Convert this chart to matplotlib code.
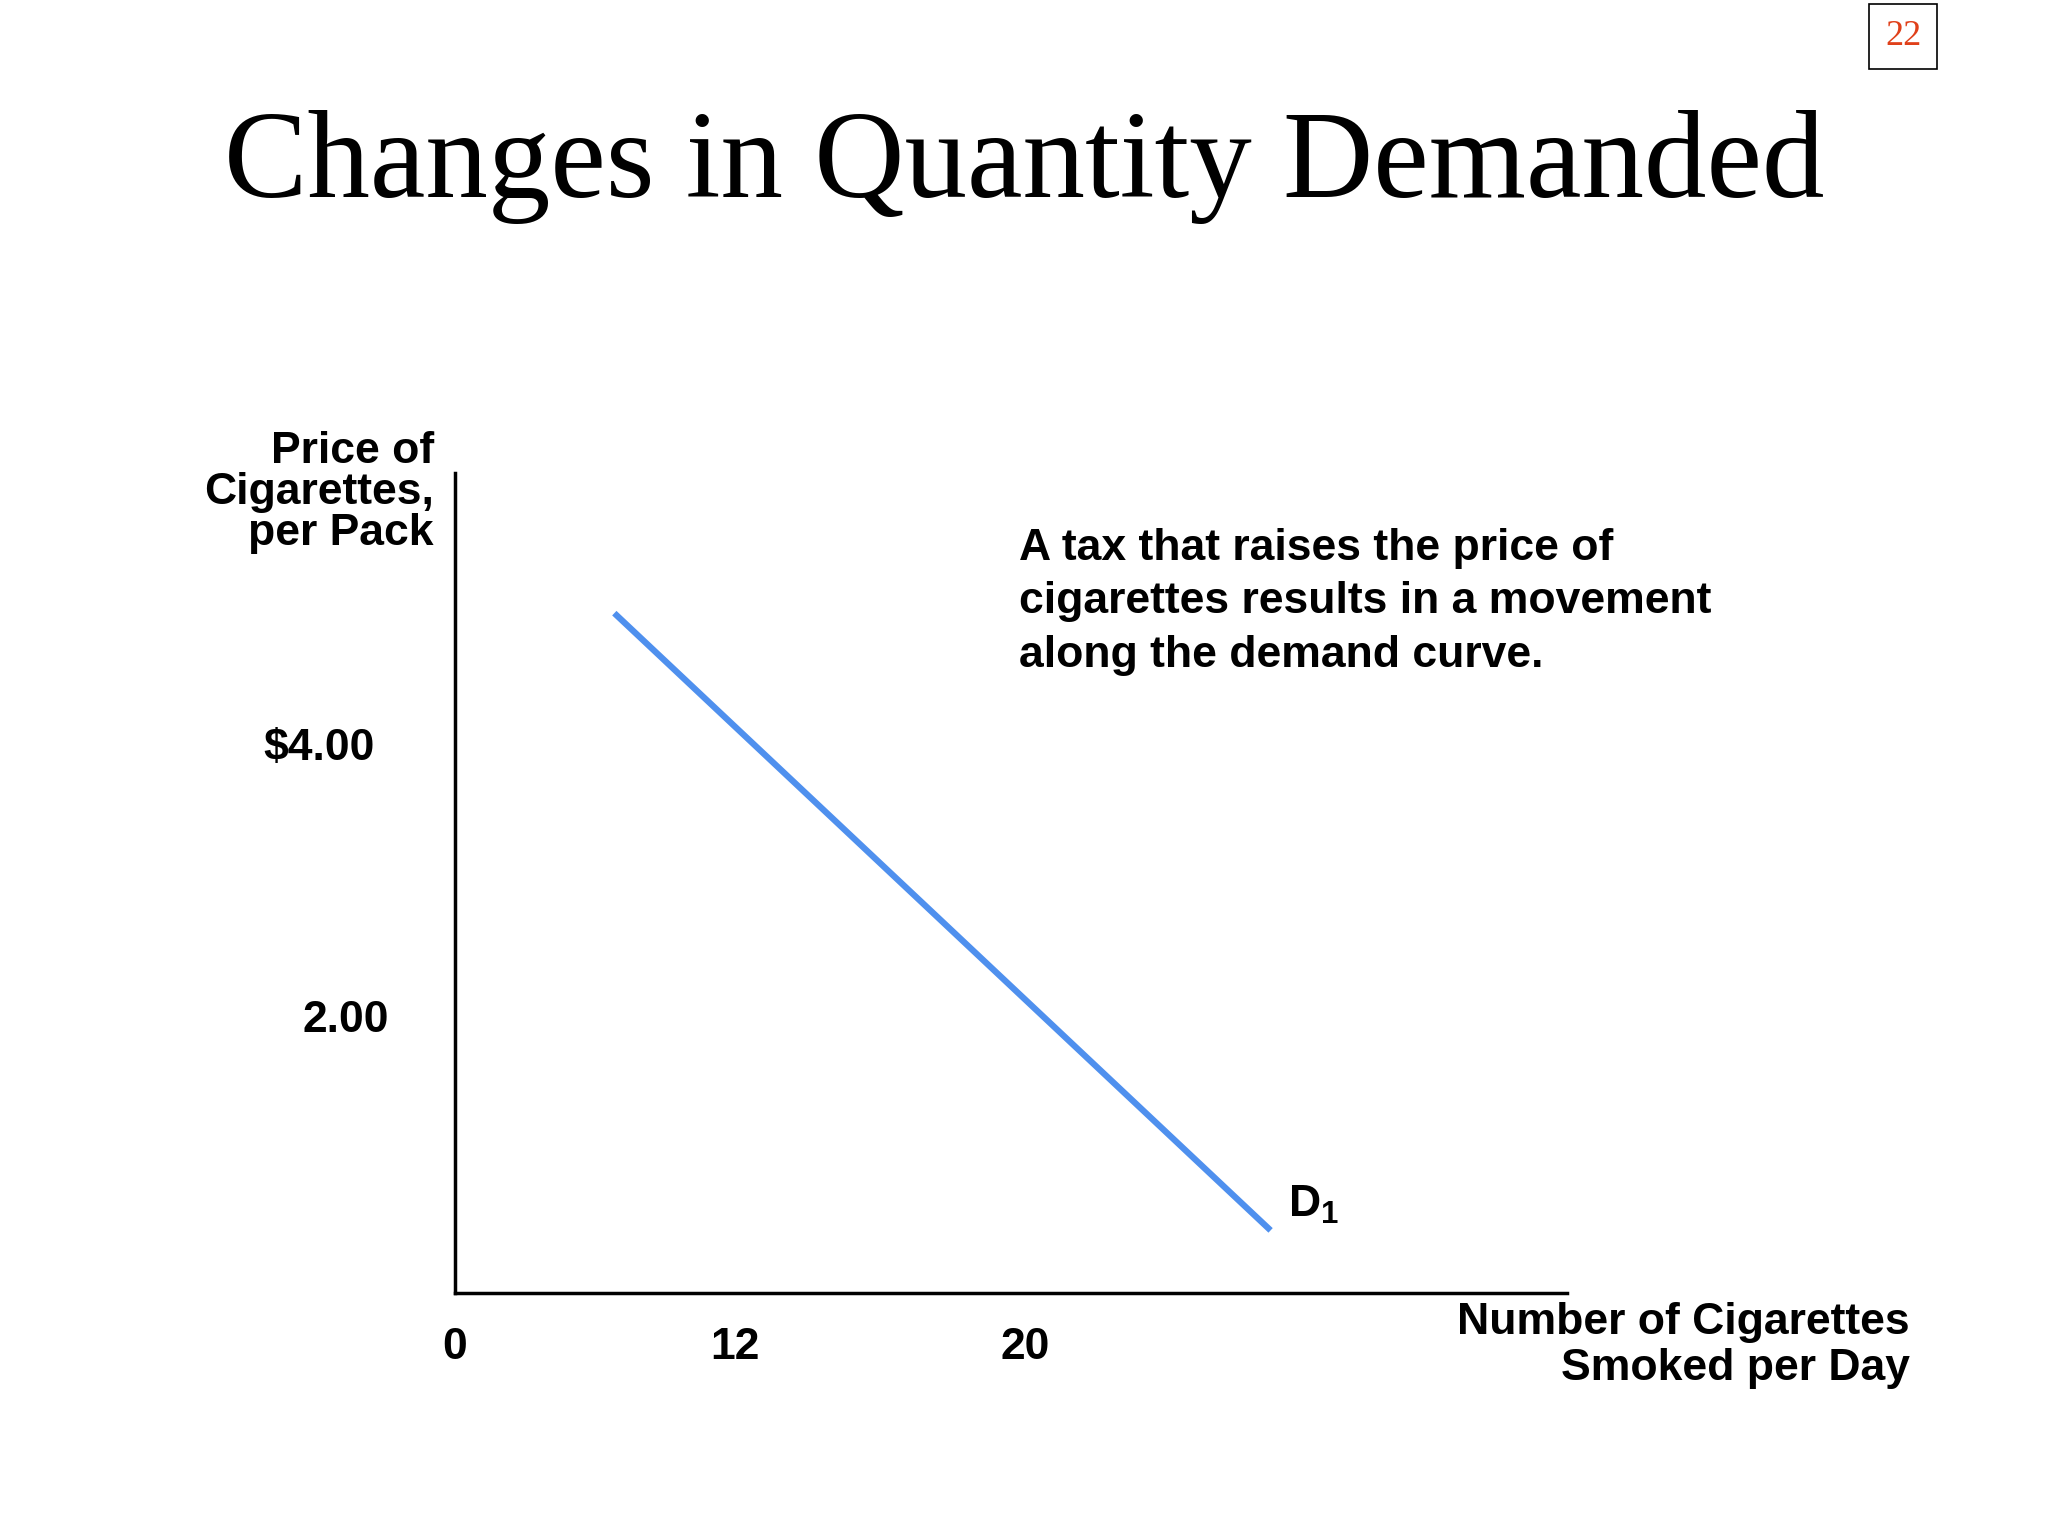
import matplotlib
matplotlib.use("Agg")
import matplotlib.pyplot as plt

quantity = [5.6, 28.6]
price = [4.99, 0.46]
x_tick_pos = [0, 9.84, 20]
x_tick_labels = ["0", "12", "20"]
y_tick_pos = [4.0, 2.0]
y_tick_labels = ["$4.00", "2.00"]

W, H = 1568, 1176
fig = plt.figure(figsize=(20.48, 15.36), dpi=100)
ax = fig.add_axes([348/W, 1-990/H, (1200-348)/W, (990-362)/H])
ax.set_xlim(0, 39)
ax.set_ylim(0, 6.02)
ax.plot(quantity, price, color="#4f90ee", lw=4.5, solid_capstyle="butt")
for s in ["top", "right"]:
    ax.spines[s].set_visible(False)
for s in ["left", "bottom"]:
    ax.spines[s].set_linewidth(2.5)
ax.set_xticks([]); ax.set_yticks([])

fam = ["Liberation Sans Narrow", "DejaVu Sans Condensed", "Liberation Sans"]
kw = dict(family=fam, fontweight="bold", fontsize=32, fontstretch="condensed")
for p, l in zip(x_tick_pos, x_tick_labels):
    ax.text(p, -0.25, l, ha="center", va="top", **kw)
for p, l in zip(y_tick_pos, y_tick_labels):
    ax.text(-2.8 if l.startswith("$") else -2.3, p, l, ha="right", va="center", **kw)

fig.text(332/W, 1-330/H, "Price of\nCigarettes,\nper Pack", ha="right", va="top",
         linespacing=1.0, **kw)
fig.text(1462/W, 1-997/H, "Number of Cigarettes\nSmoked per Day", ha="right", va="top",
         linespacing=1.15, **kw)
fig.text(780/W, 1-404/H, "A tax that raises the price of\ncigarettes results in a movement\nalong the demand curve.",
         ha="left", va="top", linespacing=1.4, **kw)
ax.text(29.2, 0.65, r"D$_\mathregular{1}$", ha="left", va="center", **kw)

fig.text(0.5, 1-128/H, "Changes in Quantity Demanded", ha="center", va="center",
         family=["Liberation Serif"], fontsize=90)
fig.text(1457/W, 1-28/H, "22", ha="center", va="center", color="#e0401a",
         family=["Liberation Serif"], fontsize=26,
         bbox=dict(boxstyle="square,pad=0.45", fc="white", ec="black", lw=1.2))
fig.savefig("out.png", dpi=100, facecolor="white")
